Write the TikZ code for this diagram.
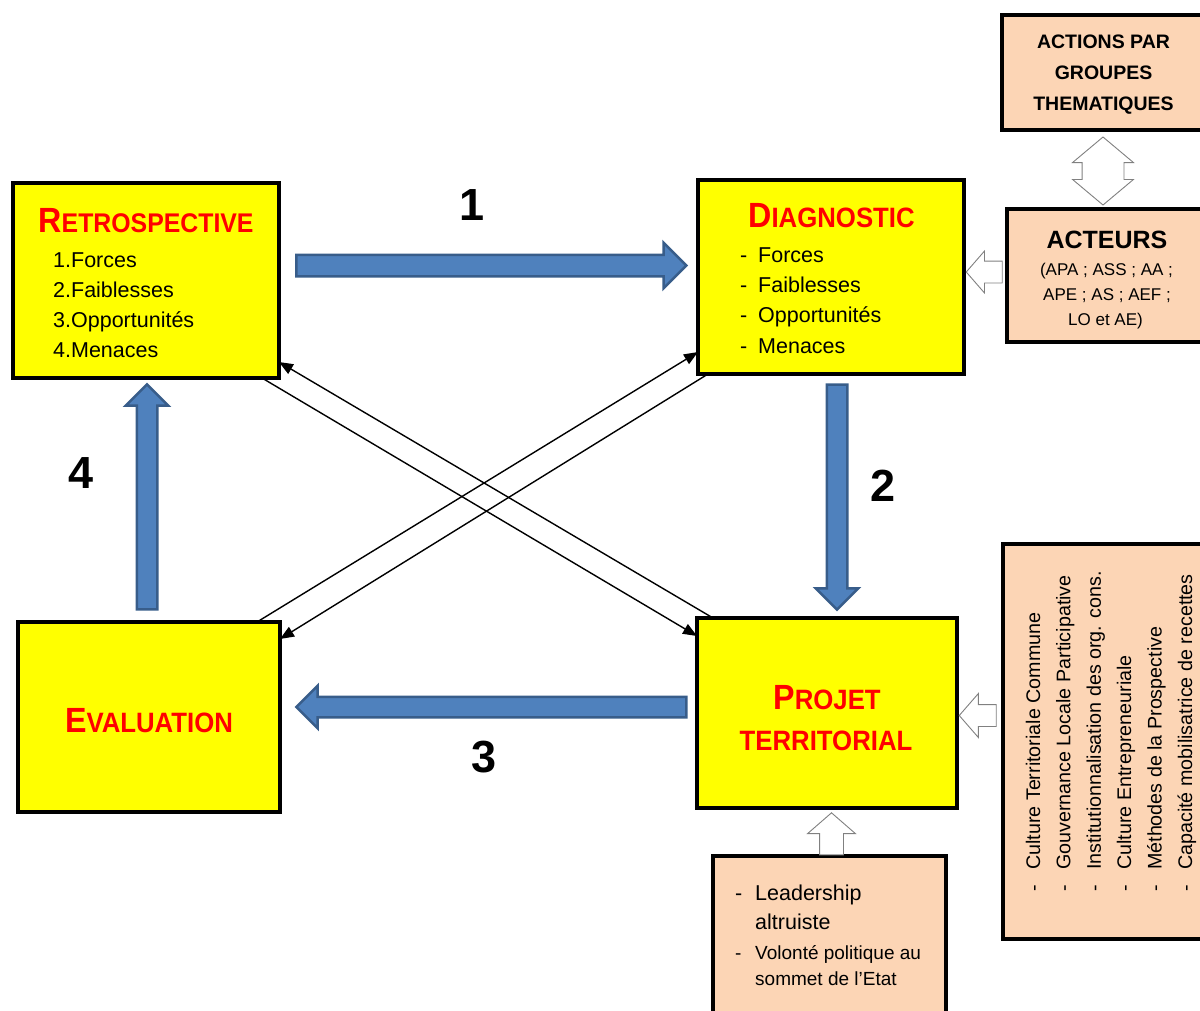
\documentclass[tikz,border=0pt]{standalone}
\usepackage{fontspec}
\setmainfont{Liberation Sans}
\newfontfamily\titlefont[FakeStretch=0.92]{Liberation Sans}
\usetikzlibrary{arrows.meta,shapes.arrows}
\definecolor{pyellow}{RGB}{255,255,0}
\definecolor{pred}{RGB}{255,0,0}
\definecolor{ppeach}{RGB}{252,213,181}
\definecolor{pblue}{RGB}{79,129,189}
\definecolor{pblueedge}{RGB}{56,93,138}
\definecolor{pgrayedge}{RGB}{128,128,128}
\newcommand{\firstletter}[1]{{\fontsize{35}{35}\selectfont #1}}

\begin{document}
\begin{tikzpicture}[x=1pt, y=-1pt,
    stage/.style={draw=black, line width=4.5pt, fill=pyellow, inner sep=0pt, outer sep=0pt},
    side/.style={draw=black, line width=4.5pt, fill=ppeach, inner sep=0pt, outer sep=0pt},
    boxtitle/.style={font=\titlefont\fontsize{28}{28}\selectfont\bfseries, text=pred, inner sep=0pt, anchor=base},
    sidetitle/.style={font=\fontsize{19.5}{24}\selectfont\bfseries, inner sep=0pt, anchor=base},
    listitem/.style={font=\fontsize{21.5}{26}\selectfont, inner sep=0pt, anchor=base west},
    flow/.style={single arrow, draw=pblueedge, fill=pblue, line width=2.5pt, inner xsep=0pt, inner ysep=9pt, single arrow head extend=11pt, single arrow tip angle=90},
    hollow/.style={single arrow, draw=pgrayedge, fill=white, line width=0.9pt, inner xsep=0pt, inner ysep=10.5pt, single arrow head extend=10pt, single arrow tip angle=98},
    cross/.style={-{Triangle[length=14pt,width=11pt]}, line width=1.4pt},
    num/.style={font=\fontsize{45}{45}\selectfont\bfseries, inner sep=0pt, anchor=base}
  ]
  \useasboundingbox (0,0) rectangle (1200,1010);

  % cycle stages
  \node[stage, minimum width=266pt, minimum height=195pt] (retro) at (146,280.5) {};
  \node[stage, minimum width=266pt, minimum height=194pt] (diag) at (831,277) {};
  \node[stage, minimum width=262pt, minimum height=190pt] (eval) at (149,717) {};
  \node[stage, minimum width=260pt, minimum height=190pt] (projet) at (827,713) {};

  % side boxes
  \node[side, minimum width=213pt, minimum height=115pt] (actions) at (1108.5,72.5) {};
  \node[side, minimum width=208pt, minimum height=133pt] (acteurs) at (1111,275.5) {};
  \node[side, minimum width=212pt, minimum height=395pt] (culture) at (1109,741.5) {};
  \node[side, minimum width=233pt, minimum height=169pt] (leader) at (829.5,940.5) {};

  % stage texts
  \node[boxtitle, font=\titlefont\fontsize{27}{27}\selectfont\bfseries] (retroT) at (146,232) {\firstletter{R}ETROSPECTIVE};
  \foreach \t [count=\i] in {1.Forces,2.Faiblesses,3.Opportunités,4.Menaces}
    \node[listitem] (retro\i) at (53,{237+30*\i}) {\t};
  \node[boxtitle] (diagT) at (831.5,227) {\firstletter{D}IAGNOSTIC};
  \foreach \t [count=\i] in {Forces,Faiblesses,Opportunités,Menaces}
    \node[listitem] (diag\i) at (740,{232+30.3*\i}) {\makebox[18pt][l]{-}\t};
  \node[boxtitle] (evalT) at (149,732) {\firstletter{E}VALUATION};
  \node[boxtitle] (projetT) at (827,709) {\firstletter{P}ROJET};
  \node[boxtitle] (projetU) at (826,750) {TERRITORIAL};

  % side texts
  \foreach \t [count=\i] in {ACTIONS PAR,GROUPES,THEMATIQUES}
    \node[sidetitle] (actions\i) at (1103.5,{17+31*\i}) {\t};
  \node[sidetitle, font=\fontsize{25}{25}\selectfont\bfseries] (acteursT) at (1107,248) {ACTEURS};
  \node[sidetitle, font=\fontsize{17}{20}\selectfont] (acteurs1) at (1106.5,275) {(APA ; ASS ; AA ;};
  \node[sidetitle, font=\fontsize{17}{20}\selectfont] (acteurs2) at (1107,300) {APE ; AS ; AEF ;};
  \node[sidetitle, font=\fontsize{17}{20}\selectfont] (acteurs3) at (1105.5,325) {LO et AE)};
  \foreach \t [count=\i] in {Culture Territoriale Commune,Gouvernance Locale Participative,Institutionnalisation des org. cons.,Culture Entrepreneuriale,Méthodes de la Prospective,Capacité mobilisatrice de recettes}
    \node[listitem, font=\fontsize{19.7}{24}\selectfont, rotate=90] (culture\i) at ({1009.6+30.4*\i},892) {\makebox[22pt][l]{-}\t};
  \node[listitem] (leader1) at (735,900) {\makebox[20pt][l]{-}Leadership};
  \node[listitem] (leader2) at (755,929) {altruiste};
  \node[listitem, font=\fontsize{19}{23}\selectfont] (leader3) at (735,959) {\makebox[20pt][l]{-}Volonté politique au};
  \node[listitem, font=\fontsize{19}{23}\selectfont] (leader4) at (755,985) {sommet de l’Etat};

  % main flow arrows
  \node[flow, minimum height=390pt, inner ysep=9.5pt, single arrow head extend=12pt] (flow1) at (486,265.5) {};
  \node[flow, minimum height=225pt, rotate=-90] (flow2) at (837,492) {};
  \node[flow, minimum height=390pt, rotate=180] (flow3) at (496.5,707) {};
  \node[flow, minimum height=225pt, rotate=90] (flow4) at (147,502) {};
  \node[num] (n1) at (472,220) {1};
  \node[num] (n2) at (883,501) {2};
  \node[num] (n3) at (484,772) {3};
  \node[num] (n4) at (81,488) {4};

  % crossing links
  \draw[cross] ([xshift=-17pt]retro.south east) -- ([yshift=-18pt]projet.north west);
  \draw[cross] ([xshift=16pt]projet.north west) -- ([yshift=16pt]retro.south east);
  \draw[cross] ([xshift=-23pt]eval.north east) -- ([yshift=22pt]diag.south west);
  \draw[cross] ([xshift=10pt]diag.south west) -- ([yshift=-17pt]eval.north east);

  % hollow arrows
  \node[hollow, minimum height=36pt, rotate=180] (in1) at (989,272) {};
  \node[hollow, minimum height=37pt, single arrow head extend=11pt, rotate=180] (in2) at (982.5,715.5) {};
  \node[hollow, minimum height=42pt, inner ysep=11.5pt, single arrow head extend=12pt, rotate=90] (in3) at (831.5,839) {};
  \node[double arrow, draw=pgrayedge, fill=white, line width=0.9pt, inner xsep=0pt, inner ysep=20.5pt, minimum height=68pt, double arrow head extend=9.5pt, double arrow tip angle=100, rotate=90] (link) at (1103,171) {};
\end{tikzpicture}
\end{document}
